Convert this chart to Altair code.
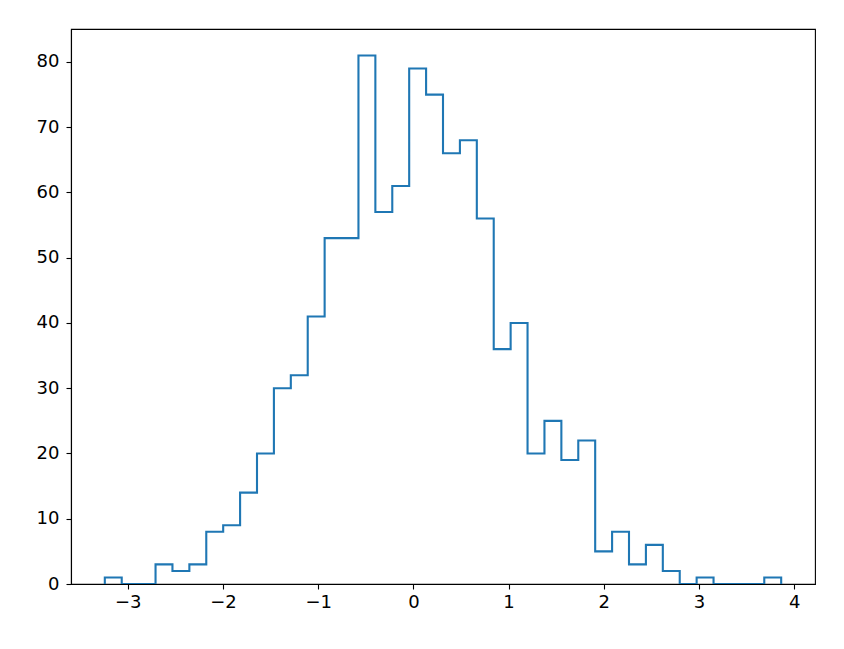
import altair as alt
import pandas as pd

# histogram of 1000 samples, 40 equal bins
bin_start = -3.241
bin_end = 3.864
counts = [1, 0, 0, 3, 2, 3, 8, 9, 14, 20,
          30, 32, 41, 53, 53, 81, 57, 61, 79, 75,
          66, 68, 56, 36, 40, 20, 25, 19, 22, 5,
          8, 3, 6, 2, 0, 1, 0, 0, 0, 1]
x_ticks = [-3, -2, -1, 0, 1, 2, 3, 4]
y_ticks = [0, 10, 20, 30, 40, 50, 60, 70, 80]

n = len(counts)
w = (bin_end - bin_start) / n
edges = [bin_start + i * w for i in range(n + 1)]

xs = [edges[0]] + edges[:n] + [edges[n]]
ys = [0] + counts + [0]
df = pd.DataFrame({"x": xs, "y": ys, "i": list(range(len(xs)))})

span = bin_end - bin_start
xdom = [bin_start - 0.05 * span, bin_end + 0.05 * span]
ydom = [0, max(counts) * 1.05]

axis_common = dict(
    domainColor="black", domainWidth=1.1,
    tickColor="black", tickWidth=1.1, tickSize=5,
    labelColor="black", labelFont="DejaVu Sans", labelFontSize=18,
    grid=False, title=None, zindex=1,
)

chart = alt.Chart(df).mark_line(
    interpolate="step-after", color="#1f77b4", strokeWidth=2.1, clip=True
).encode(
    x=alt.X("x:Q", scale=alt.Scale(domain=xdom, nice=False, zero=False),
            axis=alt.Axis(values=x_ticks, labelPadding=4, **axis_common)),
    y=alt.Y("y:Q", scale=alt.Scale(domain=ydom, nice=False),
            axis=alt.Axis(values=y_ticks, labelPadding=7, **axis_common)),
    order="i:Q",
).properties(
    width=744, height=555,
    padding={"left": 63, "top": 21, "right": 21, "bottom": 57},
    autosize=alt.AutoSizeParams(type="none"),
).configure(
    background="white",
    view=alt.ViewConfig(stroke="black", strokeWidth=1.1),
)

chart.save("out.html", embed_options={"renderer": "svg", "actions": False})
